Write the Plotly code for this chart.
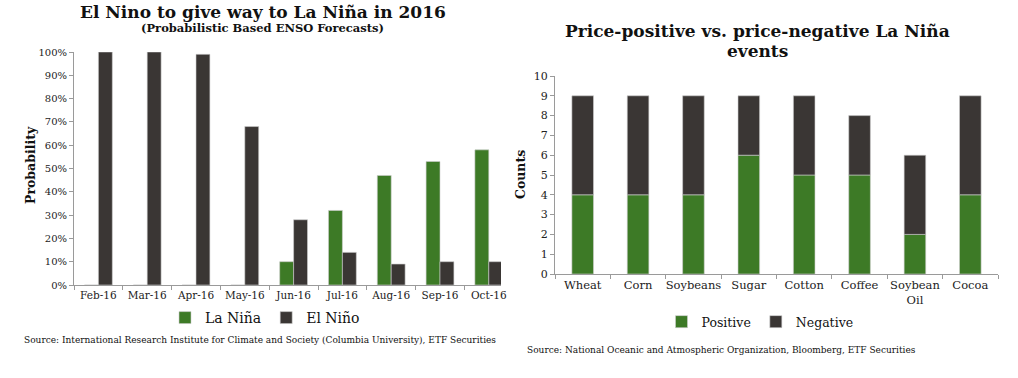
import plotly.graph_objects as go

# ---- data ----
months = ["Feb-16", "Mar-16", "Apr-16", "May-16", "Jun-16", "Jul-16", "Aug-16", "Sep-16", "Oct-16"]
la_nina = [0, 0, 0, 0, 10, 32, 47, 53, 58]
el_nino = [100, 100, 99, 68, 28, 14, 9, 10, 10]
pct_ticks = [0, 10, 20, 30, 40, 50, 60, 70, 80, 90, 100]
pct_labels = ["0%", "10%", "20%", "30%", "40%", "50%", "60%", "70%", "80%", "90%", "100%"]

commodities = ["Wheat", "Corn", "Soybeans", "Sugar", "Cotton", "Coffee", "Soybean<br>Oil", "Cocoa"]
positive = [4, 4, 4, 6, 5, 5, 2, 4]
negative = [5, 5, 5, 3, 4, 3, 4, 5]
count_ticks = list(range(0, 11))

GREEN = "#3d7a26"
DARK = "#3a3634"
EDGE = dict(width=0.6, color="#cfcfcf")
FONT = "DejaVu Serif"
W, H = 1018, 378


def px(x):
    return x / W


def py(y):
    return 1 - y / H


fig = go.Figure()

# left chart: grouped bars (explicit offsets in overlay mode)
fig.add_trace(go.Bar(x=months, y=la_nina, name="La Niña", marker=dict(color=GREEN, line=EDGE),
                     width=0.285, offset=-0.285, xaxis="x", yaxis="y", legend="legend"))
fig.add_trace(go.Bar(x=months, y=el_nino, name="El Niño", marker=dict(color=DARK, line=EDGE),
                     width=0.285, offset=0, xaxis="x", yaxis="y", legend="legend"))

# right chart: stacked bars
fig.add_trace(go.Bar(x=commodities, y=positive, name="Positive", marker=dict(color=GREEN, line=EDGE),
                     width=0.39, xaxis="x2", yaxis="y2", legend="legend2"))
fig.add_trace(go.Bar(x=commodities, y=negative, base=positive, name="Negative", marker=dict(color=DARK, line=EDGE),
                     width=0.39, xaxis="x2", yaxis="y2", legend="legend2"))

axis_common = dict(showgrid=False, zeroline=False, showline=True, linecolor="#9a9a9a", linewidth=1,
                   ticks="outside", tickcolor="#9a9a9a", ticklen=4, automargin=False, tickangle=0)

fig.update_layout(
    template="none",
    width=W, height=H,
    margin=dict(l=0, r=0, t=0, b=0, autoexpand=False),
    paper_bgcolor="white", plot_bgcolor="white",
    font=dict(family=FONT, color="#111"),
    barmode="overlay",
    xaxis=dict(domain=[px(74), px(501)], anchor="y", type="category", range=[-0.5, 8.25],
               tickson="boundaries", tickfont=dict(family=FONT, size=10.5, color="#222"), **axis_common),
    yaxis=dict(domain=[py(285), py(52)], anchor="x", range=[0, 100], tickvals=pct_ticks,
               ticktext=pct_labels, tickfont=dict(family=FONT, size=10, color="#222"), **axis_common),
    xaxis2=dict(domain=[px(555), px(998)], anchor="y2", type="category", range=[-0.5, 7.5],
                tickson="boundaries", tickfont=dict(family=FONT, size=11.5, color="#222"), **axis_common),
    yaxis2=dict(domain=[py(274), py(76)], anchor="x2", range=[0, 10], tickvals=count_ticks,
                tickfont=dict(family=FONT, size=11, color="#222"), **axis_common),
    legend=dict(orientation="h", x=px(265), xanchor="center", y=py(318), yanchor="middle",
                font=dict(family=FONT, size=14, color="#111"), traceorder="normal", bgcolor="rgba(0,0,0,0)",
                itemwidth=30),
    legend2=dict(orientation="h", x=px(760), xanchor="center", y=py(322), yanchor="middle",
                 font=dict(family=FONT, size=12.5, color="#111"), traceorder="normal", bgcolor="rgba(0,0,0,0)",
                 itemwidth=30),
)

annotations = [
    dict(text="<b>El Nino to give way to La Niña in 2016</b>", x=px(263), y=py(12), size=17),
    dict(text="<b>(Probabilistic Based ENSO Forecasts)</b>", x=px(262), y=py(28), size=11.5),
    dict(text="<b>Probability</b>", x=px(30), y=py(165), textangle=-90, size=12.5),
    dict(text="Source: International Research Institute for Climate and Society (Columbia University), ETF Securities",
         x=px(22), y=py(340), xanchor="left", size=9),
    dict(text="<b>Price-positive vs. price-negative La Niña</b>", x=px(757), y=py(31), size=17),
    dict(text="<b>events</b>", x=px(757), y=py(51), size=17),
    dict(text="<b>Counts</b>", x=px(520), y=py(175), textangle=-90, size=12.5),
    dict(text="Source: National Oceanic and Atmospheric Organization, Bloomberg, ETF Securities",
         x=px(525), y=py(350), xanchor="left", size=9),
]
for a in annotations:
    a.setdefault("xanchor", "center")
    size = a.pop("size")
    fig.add_annotation(xref="paper", yref="paper", showarrow=False, yanchor="middle",
                       font=dict(family=FONT, color="#111", size=size), **a)

fig.write_html("out.html", config={"displayModeBar": False},
               post_script="document.body.style.margin='0';document.body.style.overflow='hidden';")
